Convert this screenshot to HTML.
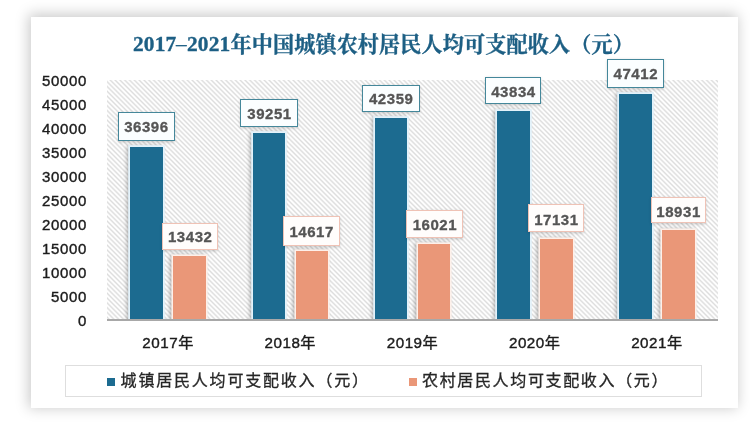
<!DOCTYPE html>
<html lang="zh-CN"><head><meta charset="utf-8"><title>2017-2021年中国城镇农村居民人均可支配收入（元）</title>
<style>
html,body{margin:0;padding:0;background:#fff;}
body{width:750px;height:428px;position:relative;overflow:hidden;font-family:"Liberation Sans","Noto Sans CJK SC",sans-serif;}
.card{position:absolute;left:30.5px;top:17px;width:707.5px;height:391px;background:#fff;box-shadow:-2px -1.5px 13px 1.5px rgba(0,0,0,.21);}
.wrap{position:absolute;left:0;top:0;width:750px;height:428px;}
.title{position:absolute;left:0;top:29.7px;width:767px;text-align:center;font-family:"Liberation Serif","Noto Serif CJK SC",serif;font-weight:bold;font-size:21.1px;line-height:30px;color:#1d5f84;-webkit-text-stroke:.35px #1d5f84;white-space:nowrap;letter-spacing:.15px;}
.title .n{font-size:21.4px;position:relative;top:-.6px;}
.title .d{display:inline-block;width:10.7px;text-align:center;transform:scale(1.9,.6) translateY(-2.5px);transform-origin:50% 66%;}
.plot{position:absolute;left:107px;top:80px;width:611px;height:240px;background:repeating-linear-gradient(45deg,#fff 0,#fff .6px,#dedede 1.9px,#dedede 2.1px,#fff 3.4px);}
.axis{position:absolute;left:107px;top:319.4px;width:611px;height:1.6px;background:#a8a8a8;}

.clip{position:absolute;left:0;top:0;width:750px;height:320.3px;overflow:hidden;}
.yl{position:absolute;left:29.5px;width:57.6px;text-align:right;font-size:15px;letter-spacing:.7px;line-height:20px;color:#1c1c1c;-webkit-text-stroke:.4px #1c1c1c;}
.xl{position:absolute;width:100px;text-align:center;font-size:15.2px;letter-spacing:.5px;line-height:20px;color:#1c1c1c;-webkit-text-stroke:.4px #1c1c1c;top:333px;white-space:nowrap;}
.bar{position:absolute;}
.bu{background:#1c6b90;box-shadow:0 0 0 1.8px #e3f2fa,-2px 0 4px 1.2px rgba(0,0,0,.3);}
.br{background:#ea9778;box-shadow:0 0 0 1.6px #fdf0ea,-2px 0 4px 1.2px rgba(0,0,0,.3);}
.dl{position:absolute;box-sizing:border-box;overflow:hidden;white-space:nowrap;background:#fff;font-weight:bold;font-size:15px;letter-spacing:.55px;text-indent:.55px;color:#555;-webkit-text-stroke:.3px #555;text-align:center;box-shadow:-.5px 1px 3px rgba(0,0,0,.22);}
.du{border:1.8px solid #44879a;background:#fbfeff;}
.dr{border:1.5px solid #efc2b5;background:#fffdfc;}
.legend{position:absolute;left:64.6px;top:364.7px;width:637.6px;height:32.6px;box-sizing:border-box;border:1.5px solid #dedede;background:#fff;}
.lm{position:absolute;width:8px;height:8px;top:378px;}
.lt{position:absolute;top:370px;font-size:16px;line-height:22px;color:#262626;-webkit-text-stroke:.3px #262626;letter-spacing:1.8px;white-space:nowrap;}
</style></head><body>
<div class="card"></div>
<div class="wrap">
<div class="title"><span class="n">2017<span class="d">-</span>2021</span>年中国城镇农村居民人均可支配收入（元）</div>
<div class="plot"></div>

<div class="yl" style="top:310.5px">0</div>
<div class="yl" style="top:286.5px">5000</div>
<div class="yl" style="top:262.5px">10000</div>
<div class="yl" style="top:238.5px">15000</div>
<div class="yl" style="top:214.5px">20000</div>
<div class="yl" style="top:190.5px">25000</div>
<div class="yl" style="top:166.5px">30000</div>
<div class="yl" style="top:142.5px">35000</div>
<div class="yl" style="top:118.5px">40000</div>
<div class="yl" style="top:94.5px">45000</div>
<div class="yl" style="top:70.5px">50000</div>
<div class="clip">
<div class="bar bu" style="left:130.3px;top:146.8px;width:32.5px;height:174.7px"></div>
<div class="bar br" style="left:173.3px;top:256.4px;width:32.5px;height:64.5px"></div>
<div class="bar bu" style="left:252.6px;top:133.1px;width:32.5px;height:188.4px"></div>
<div class="bar br" style="left:295.6px;top:250.7px;width:32.5px;height:70.2px"></div>
<div class="bar bu" style="left:374.8px;top:118.2px;width:32.5px;height:203.3px"></div>
<div class="bar br" style="left:417.8px;top:244.0px;width:32.5px;height:76.9px"></div>
<div class="bar bu" style="left:497.0px;top:111.1px;width:32.5px;height:210.4px"></div>
<div class="bar br" style="left:540.0px;top:238.7px;width:32.5px;height:82.2px"></div>
<div class="bar bu" style="left:619.1px;top:93.9px;width:32.5px;height:227.6px"></div>
<div class="bar br" style="left:662.1px;top:230.0px;width:32.5px;height:90.9px"></div>
</div>
<div class="axis"></div>
<div class="dl du" style="left:117.5px;top:112.0px;width:57.3px;height:29.4px;line-height:28.3px">36396</div>
<div class="dl dr" style="left:161.6px;top:223.4px;width:56.7px;height:26.8px;line-height:26.8px">13432</div>
<div class="xl" style="left:118.1px">2017年</div>
<div class="dl du" style="left:240.4px;top:98.8px;width:57.7px;height:28.3px;line-height:27.3px">39251</div>
<div class="dl dr" style="left:283.1px;top:216.4px;width:56.6px;height:29.2px;line-height:29.4px">14617</div>
<div class="xl" style="left:240.3px">2018年</div>
<div class="dl du" style="left:362.1px;top:84.7px;width:57.7px;height:27.2px;line-height:25.7px">42359</div>
<div class="dl dr" style="left:406.4px;top:210.2px;width:56.4px;height:27.6px;line-height:28.3px">16021</div>
<div class="xl" style="left:362.5px">2019年</div>
<div class="dl du" style="left:485.4px;top:76.5px;width:55.6px;height:27.7px;line-height:27.9px">43834</div>
<div class="dl dr" style="left:528.0px;top:204.4px;width:56.3px;height:27.6px;line-height:29.2px">17131</div>
<div class="xl" style="left:484.7px">2020年</div>
<div class="dl du" style="left:607.1px;top:59.4px;width:56.9px;height:28.5px;line-height:27.7px">47412</div>
<div class="dl dr" style="left:650.8px;top:196.7px;width:55.0px;height:26.8px;line-height:27.4px">18931</div>
<div class="xl" style="left:606.9px">2021年</div>
<div class="legend"></div>
<div class="lm" style="left:107.2px;background:#1c6b90"></div>
<div class="lt" style="left:120.6px">城镇居民人均可支配收入（元）</div>
<div class="lm" style="left:408.8px;background:#ea9778"></div>
<div class="lt" style="left:422px;letter-spacing:1.65px">农村居民人均可支配收入（元）</div>
</div>
</body></html>
